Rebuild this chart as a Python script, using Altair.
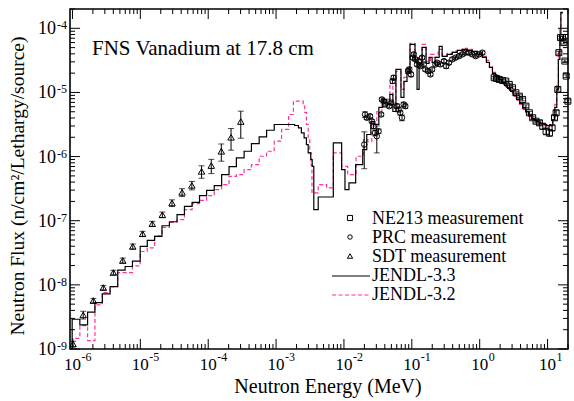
import altair as alt
import pandas as pd

W, H = 498, 340
X_DOMAIN = [9.2e-7, 20.0]
Y_DOMAIN = [1e-9, 2e-4]
FONT = "Liberation Serif"
PINK = "#ff3399"

# JENDL-3.3 calculation: group lower edges (MeV) and flux per lethargy
jendl33_energy = [
    0.99e-6, 0.99e-6, 1.285e-6, 1.671e-6, 2.143e-6, 2.754e-6, 3.581e-6, 4.645e-6, 5.970e-6, 7.656e-6,
    9.95e-6, 1.265e-5, 1.622e-5, 2.084e-5, 2.679e-5, 3.475e-5, 4.467e-5, 5.794e-5, 7.447e-5, 9.462e-5,
    1.227e-4, 1.578e-4, 2.028e-4, 2.600e-4, 3.381e-4, 4.335e-4, 5.636e-4, 7.244e-4, 9.397e-4,
    1.879e-3, 2.133e-3, 2.360e-3, 2.588e-3, 2.799e-3, 2.972e-3, 3.243e-3, 3.404e-3, 3.597e-3, 4.178e-3,
    6.966e-3, 9.250e-3, 1.035e-2, 1.186e-2, 1.489e-2, 1.892e-2, 2.168e-2, 2.489e-2, 2.851e-2, 3.266e-2,
    3.741e-2, 4.295e-2, 4.753e-2, 5.260e-2, 5.834e-2, 6.918e-2, 7.656e-2, 8.492e-2, 9.397e-2, 0.1114,
    0.1194, 0.1280, 0.1416, 0.1622, 0.1795, 0.1991, 0.2203, 0.2529, 0.2799, 0.3319,
    0.3945, 0.4677, 0.5546, 0.6577, 0.7798, 0.9247, 1.096, 1.256, 1.393, 1.542,
    1.710, 1.892, 2.094, 2.323, 2.570, 2.851, 3.155, 3.499, 3.873, 4.295,
    4.753, 5.260, 5.834, 6.457, 7.161, 7.925, 8.790, 9.727, 10.79, 11.94,
    12.79, 13.68, 14.42, 15.17, 15.70, 16.79,
]
jendl33_flux = [
    1.0e-9, 2.911e-9, 2.371e-9, 3.750e-9, 5.284e-9, 7.228e-9, 9.419e-9, 1.694e-8, 1.932e-8, 2.344e-8,
    3.972e-8, 4.932e-8, 5.689e-8, 8.356e-8, 9.638e-8, 1.242e-7, 1.675e-7, 1.932e-7, 2.460e-7, 2.979e-7,
    3.524e-7, 5.236e-7, 6.982e-7, 9.528e-7, 1.211e-6, 1.596e-6, 2.028e-6, 2.576e-6, 3.162e-6,
    3.050e-6, 2.805e-6, 2.344e-6, 1.959e-6, 1.540e-6, 1.143e-6, 9.0e-7, 7.047e-7, 1.486e-7, 2.344e-7,
    1.637e-6, 6.266e-7, 3.048e-7, 3.882e-7, 7.499e-7, 1.285e-6, 2.208e-6, 3.524e-6, 3.162e-6, 5.834e-6,
    7.780e-6, 6.494e-6, 9.310e-6, 5.047e-6, 2.286e-5, 8.356e-6, 1.486e-5, 2.128e-5, 5.623e-5, 3.048e-5,
    1.114e-5, 2.838e-5, 5.047e-5, 2.838e-5, 3.524e-5, 2.944e-5, 3.524e-5, 5.236e-5, 3.652e-5, 3.926e-5,
    4.217e-5, 4.529e-5, 4.699e-5, 4.529e-5, 4.375e-5, 3.926e-5, 3.524e-5, 2.944e-5, 2.460e-5, 1.982e-5,
    1.778e-5, 1.596e-5, 1.432e-5, 1.285e-5, 1.155e-5, 1.038e-5, 8.974e-6, 7.780e-6, 6.730e-6, 5.834e-6,
    5.047e-6, 4.375e-6, 3.926e-6, 3.652e-6, 3.459e-6, 3.281e-6, 3.162e-6, 3.048e-6, 3.048e-6, 3.784e-6,
    5.834e-6, 1.114e-5, 3.281e-5, 8.054e-5, 1.778e-4, 1.778e-4,
]

# JENDL-3.2 calculation
jendl32_energy = [
    1.02e-6, 1.02e-6, 1.285e-6, 1.671e-6, 2.143e-6, 2.754e-6, 3.581e-6, 4.645e-6, 5.970e-6, 7.656e-6,
    9.95e-6, 1.265e-5, 1.622e-5, 2.084e-5, 2.679e-5, 3.475e-5, 4.467e-5, 5.794e-5, 7.447e-5, 9.462e-5,
    1.227e-4, 1.578e-4, 2.028e-4, 2.600e-4, 3.381e-4, 4.335e-4, 5.636e-4, 7.244e-4, 9.397e-4,
    1.205e-3, 1.531e-3, 1.799e-3, 2.506e-3, 2.642e-3, 2.799e-3, 2.972e-3, 3.133e-3, 3.266e-3, 3.381e-3,
    4.178e-3, 5.546e-3, 6.966e-3, 9.250e-3, 1.135e-2, 1.507e-2, 1.936e-2, 2.244e-2, 2.570e-2, 3.048e-2,
    3.622e-2, 4.150e-2, 4.753e-2, 5.260e-2, 5.834e-2, 6.918e-2, 7.656e-2, 8.492e-2, 9.397e-2, 0.1114,
    0.1236, 0.1416, 0.1622, 0.1879, 0.2133, 0.2443, 0.2799, 0.3319, 0.3945, 0.4677,
    0.5546, 0.6577, 0.7798, 0.9247, 1.096, 1.256, 1.393, 1.542, 1.710, 1.892,
    2.094, 2.323, 2.570, 2.851, 3.155, 3.499, 3.873, 4.295, 4.753, 5.260,
    5.834, 6.457, 7.161, 7.925, 8.790, 9.727, 10.79, 11.94, 12.79, 13.68,
    14.42, 15.17, 15.70, 16.79,
]
jendl32_flux = [
    1.0e-9, 1.469e-9, 2.312e-9, 1.349e-9, 4.870e-9, 7.586e-9, 9.419e-9, 1.556e-8, 1.556e-8, 1.982e-8,
    3.311e-8, 3.784e-8, 5.834e-8, 7.852e-8, 9.397e-8, 1.038e-7, 1.486e-7, 1.845e-7, 2.075e-7, 2.460e-7,
    3.048e-7, 3.652e-7, 4.920e-7, 5.236e-7, 6.266e-7, 7.499e-7, 1.012e-6, 1.211e-6, 1.738e-6,
    2.650e-6, 4.529e-6, 7.311e-6, 6.109e-6, 4.870e-6, 3.162e-6, 1.845e-6, 1.155e-6, 7.499e-7, 2.710e-7,
    3.652e-7, 3.243e-7, 1.143e-6, 7.047e-7, 5.236e-7, 1.012e-6, 1.845e-6, 1.714e-6, 3.162e-6, 5.047e-6,
    6.494e-6, 7.780e-6, 1.285e-5, 5.834e-6, 2.128e-5, 1.114e-5, 1.714e-5, 2.286e-5, 5.834e-5, 3.281e-5,
    3.524e-5, 5.623e-5, 3.048e-5, 3.926e-5, 3.524e-5, 4.699e-5, 3.784e-5, 4.064e-5, 4.375e-5, 4.529e-5,
    4.870e-5, 4.699e-5, 4.375e-5, 4.064e-5, 3.652e-5, 3.162e-5, 2.547e-5, 2.054e-5, 1.778e-5, 1.596e-5,
    1.384e-5, 1.242e-5, 1.114e-5, 1.000e-5, 8.660e-6, 7.499e-6, 6.494e-6, 5.623e-6, 4.870e-6, 4.217e-6,
    3.784e-6, 3.524e-6, 3.396e-6, 3.162e-6, 3.048e-6, 2.944e-6, 3.162e-6, 4.064e-6, 6.494e-6, 1.334e-5,
    3.926e-5, 9.638e-5, 1.714e-4, 1.714e-4,
]

# SDT measurement (energy, flux, relative error)
sdt_energy = [1.02e-6, 1.44e-6, 2.03e-6, 2.85e-6, 4.01e-6, 5.51e-6, 7.74e-6, 1.08e-5, 1.50e-5,
              2.11e-5, 2.93e-5, 4.12e-5, 5.74e-5, 7.98e-5, 1.11e-4, 1.56e-4, 2.17e-4, 3.02e-4]
sdt_flux = [1.20e-9, 3.40e-9, 5.69e-9, 9.08e-9, 1.56e-8, 2.40e-8, 3.98e-8, 6.27e-8, 8.97e-8,
            1.24e-7, 1.89e-7, 2.77e-7, 3.56e-7, 5.89e-7, 7.24e-7, 1.21e-6, 2.00e-6, 3.52e-6]
sdt_err = [0.10, 0.14, 0.08, 0.08, 0.08, 0.09, 0.09, 0.09, 0.09,
           0.10, 0.12, 0.14, 0.15, 0.22, 0.25, 0.30, 0.37, 0.45]

# PRC measurement
prc_energy = [
    2.046e-2, 2.168e-2, 2.427e-2, 2.570e-2, 2.729e-2, 2.877e-2, 3.048e-2, 3.236e-2, 1.991e-2, 3.532e-2,
    3.622e-2, 3.837e-2, 4.046e-2, 4.645e-2, 4.966e-2, 5.212e-2, 5.395e-2, 6.039e-2, 6.397e-2, 6.761e-2,
    7.161e-2, 7.586e-2, 8.017e-2, 8.790e-2, 9.183e-2, 9.727e-2, 0.1030, 0.1067, 0.1127, 0.1194,
    0.1265, 0.1337, 0.1416, 0.1500, 0.1585, 0.1738, 0.1879, 0.1991, 0.2228, 0.2360,
    0.2642, 0.2972, 0.3214, 0.3524, 0.3945, 0.4406, 0.4955, 0.5546, 0.6209, 0.6966,
    0.7798, 0.8730, 0.9795, 1.096,
]
prc_flux = [
    4.529e-6, 4.027e-6, 4.266e-6, 3.565e-6, 2.972e-6, 2.344e-6, 2.075e-6, 2.483e-6, 1.540e-6, 4.529e-6,
    7.780e-6, 7.311e-6, 6.494e-6, 6.109e-6, 6.902e-6, 1.503e-5, 1.698e-5, 6.109e-6, 5.420e-6, 4.819e-6,
    4.027e-6, 6.494e-6, 6.109e-6, 2.153e-5, 2.286e-5, 1.910e-5, 3.483e-5, 3.926e-5, 3.281e-5, 2.738e-5,
    3.083e-5, 2.576e-5, 3.483e-5, 2.738e-5, 2.286e-5, 2.153e-5, 1.910e-5, 2.286e-5, 2.738e-5, 2.911e-5,
    2.738e-5, 3.083e-5, 2.576e-5, 2.911e-5, 3.281e-5, 3.483e-5, 3.690e-5, 3.926e-5, 4.169e-5, 4.169e-5,
    3.926e-5, 3.690e-5, 3.926e-5, 4.169e-5,
]
prc_err = [
    0.10, 0.06, 0.06, 0.06, 0.08, 0.10, 0.45, 0.08, 0.58, 0.06,
    0.06, 0.06, 0.06, 0.06, 0.06, 0.08, 0.08, 0.08, 0.08, 0.08,
    0.10, 0.08, 0.08, 0.08, 0.08, 0.08, 0.06, 0.06, 0.06, 0.06,
    0.06, 0.06, 0.06, 0.06, 0.06, 0.06, 0.06, 0.06, 0.06, 0.06,
    0.06, 0.06, 0.08, 0.06, 0.06, 0.06, 0.06, 0.06, 0.06, 0.06,
    0.06, 0.06, 0.06, 0.06,
]

# NE213 measurement
ne213_energy = [1.633, 1.766, 1.936, 2.168, 2.427, 2.729, 3.048, 3.412, 3.837, 4.295,
                4.797, 5.395, 6.039, 6.761, 7.586, 8.492, 9.506, 10.67, 11.66, 12.65,
                13.37, 14.16, 14.66, 15.52, 16.63, 17.38, 17.99, 18.79, 19.91]
ne213_flux = [1.698e-5, 1.656e-5, 1.596e-5, 1.540e-5, 1.503e-5, 1.334e-5, 1.183e-5, 9.886e-6, 8.750e-6, 7.780e-6,
              6.109e-6, 4.819e-6, 4.027e-6, 3.565e-6, 3.365e-6, 2.972e-6, 2.483e-6, 2.344e-6, 2.805e-6, 4.027e-6,
              4.819e-6, 1.114e-5, 4.169e-5, 7.161e-5, 7.161e-5, 5.984e-5, 3.083e-5, 1.799e-5, 7.311e-6]
ne213_err = [0.04, 0.04, 0.04, 0.04, 0.04, 0.04, 0.04, 0.04, 0.05, 0.05,
             0.05, 0.05, 0.06, 0.06, 0.08, 0.10, 0.12, 0.12, 0.10, 0.08,
             0.08, 0.06, 0.05, 0.05, 0.05, 0.05, 0.05, 0.05, 0.05]

# axis ticks and labels
x_major = [1e-6, 1e-5, 1e-4, 1e-3, 1e-2, 1e-1, 1.0, 10.0]
x_exponents = ["-6", "-5", "-4", "-3", "-2", "-1", "0", "1"]
y_major = [1e-9, 1e-8, 1e-7, 1e-6, 1e-5, 1e-4]
y_exponents = ["-9", "-8", "-7", "-6", "-5", "-4"]
minor_steps = [2, 3, 4, 5, 6, 7, 8, 9]
x_minor = [m * d for d in x_major for m in minor_steps if X_DOMAIN[0] <= m * d <= X_DOMAIN[1]]
y_minor = [m * d for d in y_major for m in minor_steps if Y_DOMAIN[0] <= m * d <= Y_DOMAIN[1]]

legend_labels = ["NE213 measurement", "PRC measurement", "SDT measurement", "JENDL-3.3", "JENDL-3.2"]


def X(field):
    return alt.X(f"{field}:Q", scale=alt.Scale(type="log", domain=X_DOMAIN), axis=None)


def Y(field):
    return alt.Y(f"{field}:Q", scale=alt.Scale(type="log", domain=Y_DOMAIN), axis=None)


def spectrum(energy, flux, **style):
    df = pd.DataFrame({"e": energy, "f": flux, "i": list(range(len(energy)))})
    return alt.Chart(df).mark_line(interpolate="step-after", strokeWidth=1.2, clip=True, **style).encode(
        x=X("e"), y=Y("f"), order="i:Q"
    )


def measurement(energy, flux, err, shape, size):
    df = pd.DataFrame({"e": energy, "f": flux, "r": err})
    df["lo"] = df["f"] * (1 - df["r"])
    df["hi"] = df["f"] * (1 + df["r"])
    bars = alt.Chart(df).mark_rule(color="black", strokeWidth=1).encode(x=X("e"), y=Y("lo"), y2="hi:Q")
    cap = alt.Chart(df).mark_tick(orient="horizontal", color="black", size=6, thickness=1)
    pts = alt.Chart(df).mark_point(shape=shape, size=size, filled=False, color="black",
                                   strokeWidth=1, opacity=1).encode(x=X("e"), y=Y("f"))
    return [bars, cap.encode(x=X("e"), y=Y("lo")), cap.encode(x=X("e"), y=Y("hi")), pts]


def x_ticks(values, length):
    base = alt.Chart(pd.DataFrame({"v": values})).mark_rule(color="black", strokeWidth=1)
    return [base.encode(x=X("v"), y=alt.value(H), y2=alt.value(H - length)),
            base.encode(x=X("v"), y=alt.value(0), y2=alt.value(length))]


def y_ticks(values, length):
    base = alt.Chart(pd.DataFrame({"v": values})).mark_rule(color="black", strokeWidth=1)
    return [base.encode(y=Y("v"), x=alt.value(0), x2=alt.value(length)),
            base.encode(y=Y("v"), x=alt.value(W), x2=alt.value(W - length))]


def label(text, x, y, size, **style):
    return alt.Chart(pd.DataFrame({"t": [text]})).mark_text(
        font=FONT, fontSize=size, color="black", **style
    ).encode(text="t:N", x=alt.value(x), y=alt.value(y))


layers = []
layers += [spectrum(jendl32_energy, jendl32_flux, color=PINK, strokeDash=[4, 2.5])]
layers += [spectrum(jendl33_energy, jendl33_flux, color="black")]
layers += measurement(sdt_energy, sdt_flux, sdt_err, "triangle-up", 42)
layers += measurement(prc_energy, prc_flux, prc_err, "circle", 30)
layers += measurement(ne213_energy, ne213_flux, ne213_err, "square", 36)

layers += x_ticks(x_major, 10) + x_ticks(x_minor, 5)
layers += y_ticks(y_major, 10) + y_ticks(y_minor, 5)

# decade tick labels: "10" plus a raised exponent
xl = pd.DataFrame({"v": x_major, "exp": x_exponents})
layers.append(alt.Chart(xl).mark_text(text="10", font=FONT, fontSize=17, align="center",
                                      baseline="alphabetic").encode(x=X("v"), y=alt.value(H + 21)))
layers.append(alt.Chart(xl).mark_text(font=FONT, fontSize=12, align="left", baseline="alphabetic",
                                      dx=9).encode(x=X("v"), y=alt.value(H + 12), text="exp:N"))
yl = pd.DataFrame({"v": y_major, "exp": y_exponents})
layers.append(alt.Chart(yl).mark_text(text="10", font=FONT, fontSize=18, align="right",
                                      baseline="alphabetic", dy=6).encode(x=alt.value(-14), y=Y("v")))
layers.append(alt.Chart(yl).mark_text(font=FONT, fontSize=12, align="left", baseline="alphabetic",
                                      dy=1).encode(x=alt.value(-13), y=Y("v"), text="exp:N"))

# titles
layers.append(label("FNS Vanadium at 17.8 cm", 22, 46, 21, align="left", baseline="alphabetic"))
layers.append(label("Neutron Energy (MeV)", 258, 384, 20, align="center", baseline="alphabetic"))
layers.append(label("Neutron Flux (n/cm²/Lethargy/source)", -52, 177, 19.5, align="center",
                    baseline="middle", angle=270))

# legend
rows = [210, 229, 248, 267, 286]
for text, y in zip(legend_labels, rows):
    layers.append(label(text, 302, y, 18, align="left", baseline="middle"))
for shape, size, y in zip(["square", "circle", "triangle-up"], [26, 20, 28], rows[:3]):
    layers.append(alt.Chart(pd.DataFrame({"t": [0]})).mark_point(
        shape=shape, size=size, filled=False, color="black", strokeWidth=1, opacity=1
    ).encode(x=alt.value(280), y=alt.value(y - 1)))
layers.append(alt.Chart(pd.DataFrame({"t": [0]})).mark_rule(color="black", strokeWidth=1.2).encode(
    x=alt.value(262), x2=alt.value(300), y=alt.value(rows[3])))
layers.append(alt.Chart(pd.DataFrame({"t": [0]})).mark_rule(color=PINK, strokeWidth=1.2,
                                                             strokeDash=[4, 2.5]).encode(
    x=alt.value(262), x2=alt.value(300), y=alt.value(rows[4])))

chart = alt.layer(*layers).properties(
    width=W, height=H,
    padding={"left": 70, "top": 9, "right": 6, "bottom": 52},
    autosize=alt.AutoSizeParams(type="none"),
).configure_view(stroke="black", strokeWidth=1.6)

chart.save("out.html", embed_options={"renderer": "svg", "actions": False})
